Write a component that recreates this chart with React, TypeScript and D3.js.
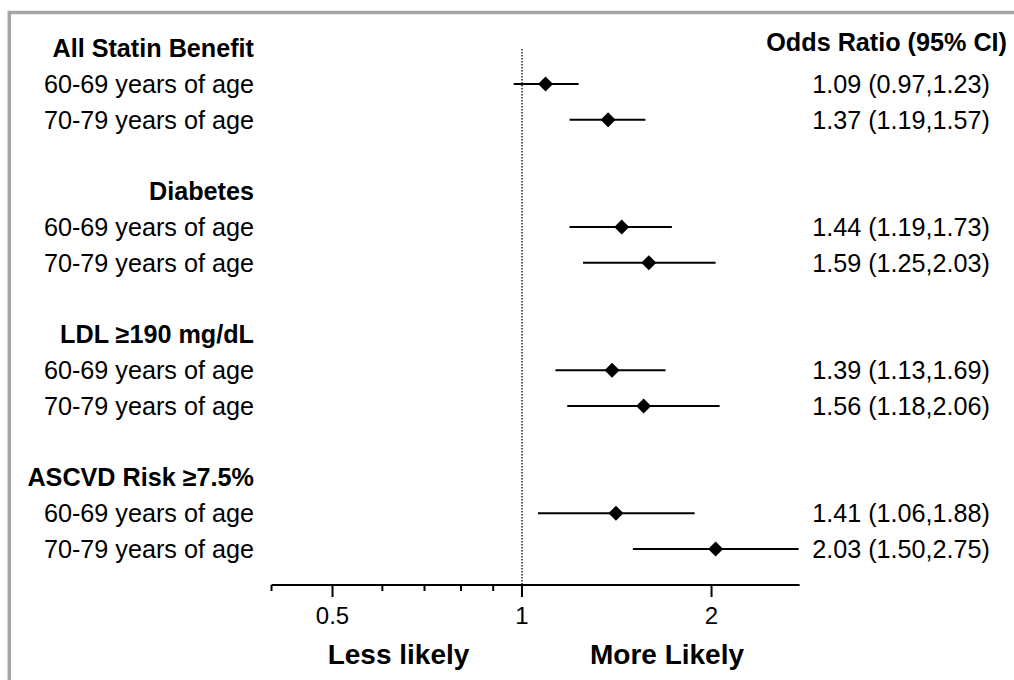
import React from "react";
import * as d3 from "d3";

const groupLabels = ["All Statin Benefit", "Diabetes", "LDL ≥190 mg/dL", "ASCVD Risk ≥7.5%"];
const ageLabels = ["60-69 years of age", "70-79 years of age"];
const oddsRatios = [1.09, 1.37, 1.44, 1.59, 1.39, 1.56, 1.41, 2.03];
const ciLower = [0.97, 1.19, 1.19, 1.25, 1.13, 1.18, 1.06, 1.5];
const ciUpper = [1.23, 1.57, 1.73, 2.03, 1.69, 2.06, 1.88, 2.75];
const majorTicks = [0.5, 1, 2];
const minorTicks = [0.4, 0.6, 0.7, 0.8, 0.9];
const xDomain = [0.4, 2.76];
const headerLabel = "Odds Ratio (95% CI)";
const leftDirection = "Less likely";
const rightDirection = "More Likely";

const FONT = "'Liberation Sans', Arial, Helvetica, sans-serif";

export default function App() {
  const W = 1014;
  const H = 680;
  const x = d3.scaleLog().domain(xDomain).range([271.5, 799.6]);
  const y = d3.scaleLinear().domain([0, 14]).range([48.2, 48.2 + 14 * 35.77]);
  const axisY = 585;
  const fs = 25.2;
  const half = fs * 0.358;

  type Row = { label: string; bold: boolean; idx: number; k: number };
  const rows: Row[] = [];
  groupLabels.forEach((g, gi) => {
    rows.push({ label: g, bold: true, idx: gi * 4, k: -1 });
    ageLabels.forEach((a, ai) => {
      rows.push({ label: a, bold: false, idx: gi * 4 + 1 + ai, k: gi * 2 + ai });
    });
  });

  const diamond = (cx: number, cy: number, r: number) =>
    `M${cx},${cy - r}L${cx + r},${cy}L${cx},${cy + r}L${cx - r},${cy}Z`;

  return (
    <svg
      width={W}
      height={H}
      style={{ position: "absolute", left: 0, top: 0, background: "#fff" }}
      fontFamily={FONT}
    >
      <rect x={0} y={0} width={W} height={H} fill="#fff" />
      <rect x={9.3} y={12.5} width={W + 40} height={H + 40} fill="none" stroke="#a5a5a5" strokeWidth={3.5} />

      {/* reference line at OR = 1 */}
      <line
        x1={x(1)}
        x2={x(1)}
        y1={49}
        y2={axisY}
        stroke="#000"
        strokeWidth={1.3}
        strokeDasharray="1.5,1.5"
      />

      {/* row labels */}
      {rows.map((r, i) => (
        <text
          key={"l" + i}
          x={254}
          y={y(r.idx) + half}
          textAnchor="end"
          fontSize={fs}
          fontWeight={r.bold ? "bold" : "normal"}
          fill="#000"
        >
          {r.label}
        </text>
      ))}

      {/* header */}
      <text x={1007} y={51} textAnchor="end" fontSize={fs} fontWeight="bold" fill="#000">
        {headerLabel}
      </text>

      {/* CI and markers */}
      {rows
        .filter((r) => r.k >= 0)
        .map((r) => {
          const cy = y(r.idx);
          return (
            <g key={"m" + r.k}>
              <line
                x1={x(ciLower[r.k])}
                x2={x(ciUpper[r.k])}
                y1={cy}
                y2={cy}
                stroke="#000"
                strokeWidth={2}
              />
              <path d={diamond(x(oddsRatios[r.k]), cy, 7.5)} fill="#000" />
              <text x={990} y={cy + half} textAnchor="end" fontSize={fs} fill="#000">
                {`${oddsRatios[r.k].toFixed(2)} (${ciLower[r.k].toFixed(2)},${ciUpper[r.k].toFixed(2)})`}
              </text>
            </g>
          );
        })}

      {/* axis */}
      <line x1={x(xDomain[0])} x2={x(xDomain[1])} y1={axisY} y2={axisY} stroke="#000" strokeWidth={2} />
      {majorTicks.map((t) => (
        <g key={"M" + t}>
          <line x1={x(t)} x2={x(t)} y1={axisY} y2={axisY + 12} stroke="#000" strokeWidth={2} />
          <text x={x(t)} y={623.5} textAnchor="middle" fontSize={24} fill="#000">
            {String(t)}
          </text>
        </g>
      ))}
      {minorTicks.map((t) => (
        <line key={"m" + t} x1={x(t)} x2={x(t)} y1={axisY} y2={axisY + 6} stroke="#000" strokeWidth={2} />
      ))}

      <text x={398.5} y={663.5} textAnchor="middle" fontSize={28} fontWeight="bold" fill="#000">
        {leftDirection}
      </text>
      <text x={667} y={663.5} textAnchor="middle" fontSize={28} fontWeight="bold" fill="#000">
        {rightDirection}
      </text>
    </svg>
  );
}
